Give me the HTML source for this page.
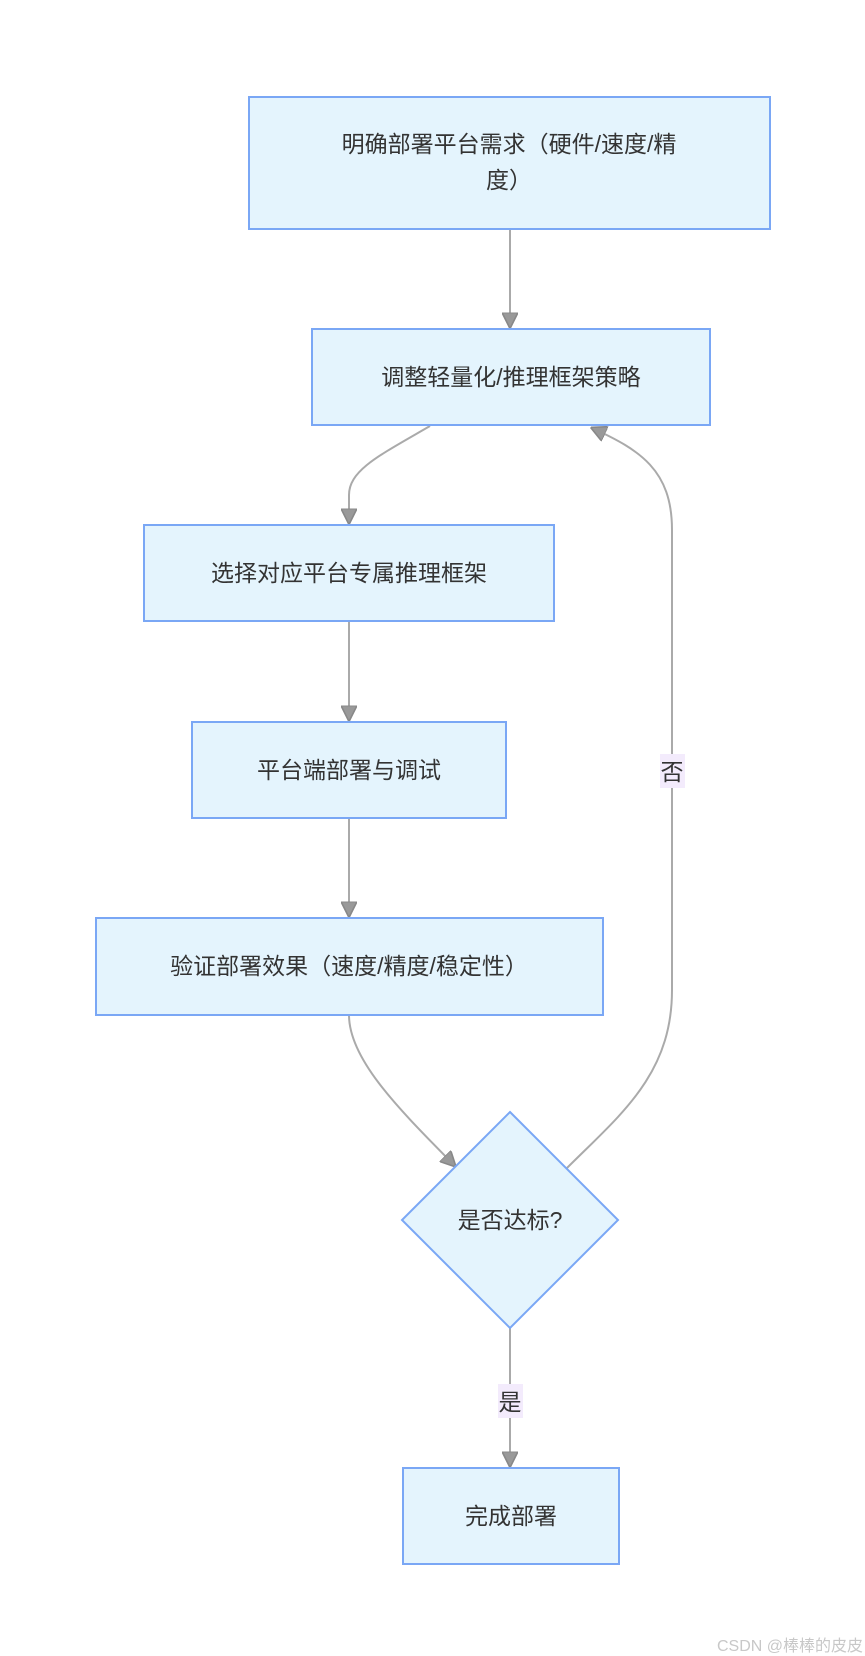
<!DOCTYPE html>
<html><head><meta charset="utf-8"><style>
html,body{margin:0;padding:0;background:#fff;}
svg{display:block;}
text{font-family:"Liberation Sans","Noto Sans CJK SC",sans-serif;fill:#333;font-size:23px;}
.n{fill:#e4f4fd;stroke:#7aa7f5;stroke-width:2;}
.e{fill:none;stroke:#aaa;stroke-width:2;}
</style></head><body>
<svg width="865" height="1656" viewBox="0 0 865 1656" xmlns="http://www.w3.org/2000/svg">
<defs><marker id="a" viewBox="0 0 10 10" refX="9" refY="5" markerWidth="8" markerHeight="8" orient="auto"><path d="M0,0L10,5L0,10z" fill="#999" stroke="#888" stroke-width="1"/></marker></defs>

<path class="e" d="M510,229 L510,327" marker-end="url(#a)"/>
<path class="e" d="M430,426 C380,455 349,470 349,495 L349,523" marker-end="url(#a)"/>
<path class="e" d="M349,621 L349,720" marker-end="url(#a)"/>
<path class="e" d="M349,818 L349,916" marker-end="url(#a)"/>
<path class="e" d="M349,1015 C349,1060 400,1110 455,1166" marker-end="url(#a)"/>
<path class="e" d="M567,1168 C620,1115 672,1075 672,990 L672,530 C672,470 640,450 592,428" marker-end="url(#a)"/>
<path class="e" d="M510,1328 L510,1466" marker-end="url(#a)"/>

<rect class="n" x="249" y="97" width="521" height="132"/>
<text x="509" y="152" text-anchor="middle">明确部署平台需求（硬件/速度/精</text>
<text x="509" y="188" text-anchor="middle">度）</text>

<rect class="n" x="312" y="329" width="398" height="96"/>
<text x="511" y="385" text-anchor="middle">调整轻量化/推理框架策略</text>

<rect class="n" x="144" y="525" width="410" height="96"/>
<text x="349" y="581" text-anchor="middle">选择对应平台专属推理框架</text>

<rect class="n" x="192" y="722" width="314" height="96"/>
<text x="349" y="778" text-anchor="middle">平台端部署与调试</text>

<rect class="n" x="96" y="918" width="507" height="97"/>
<text x="349" y="974" text-anchor="middle">验证部署效果（速度/精度/稳定性）</text>

<polygon class="n" points="510,1112 618,1220 510,1328 402,1220"/>
<text x="510" y="1228" text-anchor="middle">是否达标?</text>

<rect class="n" x="403" y="1468" width="216" height="96"/>
<text x="511" y="1524" text-anchor="middle">完成部署</text>

<rect x="660" y="754" width="25" height="34" fill="#f3ebfc"/>
<text x="672" y="780" text-anchor="middle">否</text>
<rect x="498" y="1384" width="25" height="34" fill="#f3ebfc"/>
<text x="510" y="1410" text-anchor="middle">是</text>

<text x="863" y="1651" text-anchor="end" style="font-size:16px;fill:#c8c8c8;">CSDN @棒棒的皮皮</text>
</svg>
</body></html>
